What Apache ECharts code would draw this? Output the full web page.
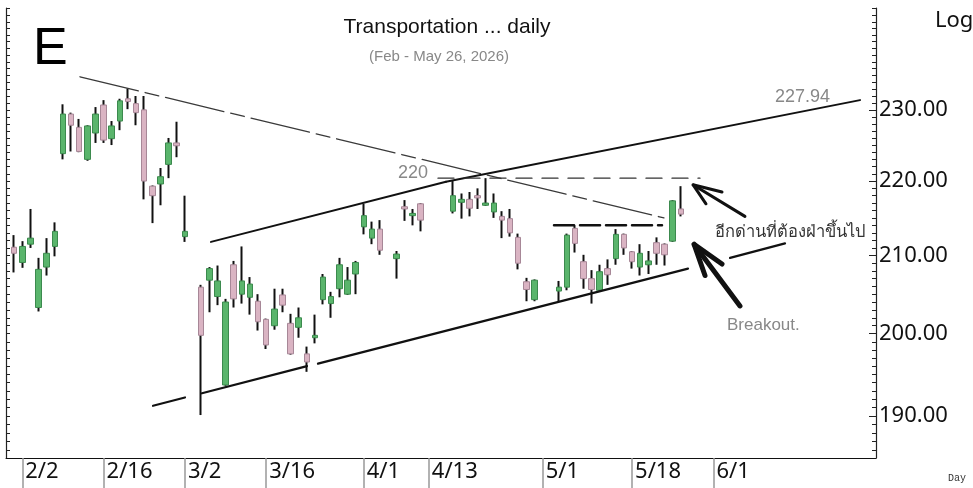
<!DOCTYPE html>
<html><head><meta charset="utf-8">
<script src="https://cdn.jsdelivr.net/npm/echarts@6/dist/echarts.min.js"></script>
<style>html,body{margin:0;padding:0;background:#fff}#c{width:973px;height:488px}</style>
</head><body><div id="c"></div>
<script>
// ---- data (prices) ----
const dates = ['1/30','2/2','2/3','2/4','2/5','2/6','2/9','2/10','2/11','2/12','2/13','2/16','2/17','2/18','2/19','2/20','2/23','2/24','2/25','2/26','2/27','3/2','3/4','3/5','3/6','3/9','3/10','3/11','3/12','3/13','3/16','3/17','3/18','3/19','3/20','3/23','3/24','3/25','3/26','3/27','3/30','3/31','4/1','4/2','4/3','4/7','4/8','4/9','4/10','4/16','4/17','4/20','4/21','4/22','4/23','4/24','4/27','4/28','4/29','4/30','5/5','5/6','5/7','5/8','5/11','5/12','5/13','5/14','5/15','5/18','5/19','5/20','5/21','5/22','5/25','5/26'];
const open  = [211.1,209.1,211.5,203.3,208.5,211.2,223.8,229.4,227.5,223.0,226.7,230.7,225.9,228.4,231.6,230.9,230.0,219.3,219.6,222.3,225.3,212.5,205.9,206.8,204.7,193.7,208.8,205.0,204.6,204.1,201.8,201.0,204.9,201.3,200.8,197.5,199.5,204.3,203.8,205.7,205.0,207.6,213.8,212.3,213.5,209.6,216.5,215.3,216.9,215.9,217.1,217.5,218.0,216.7,215.8,215.2,214.9,212.4,206.6,204.3,205.4,205.9,213.6,209.2,207.0,205.5,208.3,209.6,212.8,210.5,208.5,208.8,211.7,211.5,211.9,216.2];
const close = [210.3,211.2,212.3,208.2,210.3,213.2,229.4,227.8,224.1,227.7,229.4,225.7,227.7,231.3,231.2,229.6,220.0,218.0,220.6,225.3,224.9,213.2,199.8,208.3,206.7,204.0,204.4,206.7,206.3,201.5,198.6,203.1,203.6,197.5,202.0,196.5,199.8,207.2,204.7,208.8,206.8,209.1,215.3,213.5,210.7,210.2,216.2,215.6,214.7,218.0,217.5,216.3,217.7,217.0,217.0,214.7,213.0,209.0,205.6,206.8,205.9,212.7,211.6,207.0,205.6,207.9,207.5,212.8,211.0,209.2,210.3,209.3,210.3,210.1,217.3,215.5];
const low   = [207.8,208.4,211.0,202.8,207.4,209.9,223.0,224.1,224.0,222.8,225.3,225.3,225.0,227.1,230.1,227.8,217.5,214.3,216.7,220.4,223.3,211.8,190.1,202.7,203.6,193.6,203.3,203.8,202.4,200.4,198.1,200.5,202.7,197.4,199.5,195.3,198.8,203.7,202.0,204.6,204.9,205.0,212.8,211.5,210.1,207.0,214.6,214.0,213.2,215.6,214.9,215.2,216.2,216.6,215.0,212.3,212.5,208.2,204.1,204.1,204.1,205.5,210.4,205.7,203.8,205.3,206.2,208.8,210.1,208.3,207.4,207.6,208.8,208.7,211.8,215.2];
const high  = [212.7,211.9,216.2,209.7,212.3,214.4,230.8,229.6,228.7,227.8,230.4,231.4,228.4,231.6,233.1,232.0,232.0,219.4,221.8,226.0,228.3,218.0,206.2,208.5,208.7,204.4,209.3,211.2,207.2,205.0,201.9,205.7,205.7,202.5,203.3,198.4,202.4,207.6,205.3,209.7,208.5,209.3,216.9,214.5,214.7,210.6,217.4,216.2,217.0,220.0,218.3,218.5,219.0,220.4,218.3,215.9,216.2,212.9,207.1,206.9,206.7,212.9,214.0,210.1,208.1,208.8,209.5,213.5,212.9,210.6,211.5,210.6,212.4,211.6,217.4,219.3];

const xTickDates  = ['2/2','2/16','3/2','3/16','4/1','4/13','5/1','5/18','6/1'];
const yTickLabels = [190,200,210,220,230];
const yMinorTicks = [186,187,188,189,190,191,192,193,194,195,196,197,198,199,200,201,202,203,204,205,206,207,208,209,210,211,212,213,214,215,216,217,218,219,220,221,222,223,224,225,226,227,228,229,230,231,232,233,234,235,236,237,238,239,240,241,242,243,244,245];

// annotation lines: [trading-day slot, price]
const downTrend   = [[7.10,234.8],[78.92,215.0]];
const upChannelA  = [[23.21,211.8],[52.11,219.9]];
const upChannelB  = [[52.11,219.9],[103.03,231.4]];
const lowChannel1 = [[16.08,191.2],[20.01,192.2]];
const lowChannel2 = [[22.10,192.7],[35.02,196.0]];
const lowChannel3 = [[36.37,196.3],[81.88,208.3]];
const lowChannel4 = [[87.05,209.7],[93.81,211.6]];
const res220      = [[51.13,220.4],[83.35,220.4]];
const res214      = [[65.40,214.0],[78.68,214.0]];
const arrow1Head  = [[86.06,218.5],[82.49,219.5],[84.09,216.9]];
const arrow1Shaft = [[82.49,219.5],[88.88,215.2]];
const arrow2Head  = [[86.06,208.9],[82.62,211.5],[83.97,207.4]];
const arrow2Shaft = [[82.62,211.5],[88.27,203.5]];

// ---- helpers ----
const BASE = Date.UTC(2026,1,2);
function slotOf(md){
  const [m,d] = md.split('/').map(Number);
  const t = Date.UTC(2026,m-1,d);
  const step = t >= BASE ? 1 : -1;
  const cur = new Date(BASE); let n = 0;
  while (cur.getTime() !== t) {
    cur.setUTCDate(cur.getUTCDate()+step);
    const wd = cur.getUTCDay();
    if (wd !== 0 && wd !== 6) n += step;
  }
  return n;
}
const L = Math.log;
const slots = dates.map(slotOf);
const wickData = slots.map((s,i)=>[s, L(open[i]), L(close[i]), L(low[i]), L(high[i])]);
const bodyData = slots.map((s,i)=>[s, L(open[i]), L(close[i]), L(Math.min(open[i],close[i])), L(Math.max(open[i],close[i]))]);
const xTickSlots = xTickDates.map(slotOf);
const xLabelMap = {}; xTickSlots.forEach((s,i)=>xLabelMap[s]=xTickDates[i]);
const toLn = arr => arr.map(p=>[p[0], L(p[1])]);

const YMIN = L(185.07), YMAX = L(245.1);
const FONT = '"Noto Sans", "DejaVu Sans", sans-serif';
const ARIAL = '"Liberation Sans", Arial, sans-serif';

function lineSeries(pts, color, width, type){
  return {type:'line', data: toLn(pts), symbol:'none', silent:true, animation:false,
    lineStyle:{color:color, width:width, type:type||'solid', cap:'round'}, z:5};
}

const chart = echarts.init(document.getElementById('c'), null, {renderer:'canvas'});
chart.setOption({
  animation:false,
  backgroundColor:'#fff',
  grid:{left:6, right:97, top:8, bottom:30, containLabel:false},
  xAxis:{type:'value', min:-2, max:105,
    axisLine:{onZero:false, lineStyle:{color:'#111', width:1}},
    axisTick:{show:true, customValues:xTickSlots, length:30, inside:false, lineStyle:{color:'#999', width:1.5}},
    axisLabel:{customValues:xTickSlots, formatter:v=>xLabelMap[v]||'', align:'left', padding:[0,0,0,3], margin:3,
      fontSize:22, fontFamily:FONT, color:'#111'},
    splitLine:{show:false}},
  yAxis:[
    {type:'value', position:'right', min:YMIN, max:YMAX,
      axisLine:{show:true, onZero:false, lineStyle:{color:'#222', width:1.2}},
      axisTick:{show:true, inside:true, length:7, customValues:yTickLabels.map(L), lineStyle:{color:'#222'}},
      axisLabel:{customValues:yTickLabels.map(L), formatter:v=>Math.exp(v).toFixed(2), margin:3,
        fontSize:22, fontFamily:FONT, color:'#111'},
      splitLine:{show:false}},
    {type:'value', position:'right', min:YMIN, max:YMAX,
      axisLine:{show:false, onZero:false},
      axisTick:{show:true, inside:true, length:4, customValues:yMinorTicks.map(L), lineStyle:{color:'#222'}},
      axisLabel:{show:false}, splitLine:{show:false}},
    {type:'value', position:'left', min:YMIN, max:YMAX,
      axisLine:{show:true, onZero:false, lineStyle:{color:'#222', width:1.2}},
      axisTick:{show:true, inside:true, length:4, customValues:yMinorTicks.map(L), lineStyle:{color:'#222'}},
      axisLabel:{show:false}, splitLine:{show:false}}
  ],
  series:[
    {type:'candlestick', name:'wick', data:wickData, encode:{x:0, y:[1,2,3,4]}, barWidth:1, silent:true,
      itemStyle:{color:'#111', color0:'#111', borderColor:'#111', borderColor0:'#111', borderWidth:2}},
    {type:'candlestick', name:'body', data:bodyData, encode:{x:0, y:[1,2,3,4]}, barWidth:6, silent:true,
      itemStyle:{color:'#5ab56c', color0:'#dab4c3', borderColor:'#3c8a4e', borderColor0:'#a78797', borderWidth:1}},
    lineSeries(downTrend, '#3a3a3a', 1.3, [60,7,14,7]),
    lineSeries(upChannelA, '#111', 2),
    lineSeries(upChannelB, '#111', 2),
    lineSeries(lowChannel1, '#111', 2.2),
    lineSeries(lowChannel2, '#111', 2.2),
    lineSeries(lowChannel3, '#111', 2.2),
    lineSeries(lowChannel4, '#111', 2.2),
    lineSeries(res220, '#333', 1.3, [16,10]),
    lineSeries(res214, '#111', 2.5, [20,6]),
    lineSeries(arrow1Head, '#111', 3),
    lineSeries(arrow1Shaft, '#111', 3),
    lineSeries(arrow2Head, '#111', 5),
    lineSeries(arrow2Shaft, '#111', 5)
  ],
  graphic:[
    {type:'text', x:447, y:27, style:{text:'Transportation ... daily', fontSize:21, fontFamily:ARIAL, fill:'#111', align:'center', verticalAlign:'middle'}},
    {type:'text', x:439, y:57, style:{text:'(Feb - May 26, 2026)', fontSize:15, fontFamily:ARIAL, fill:'#888', align:'center', verticalAlign:'middle'}},
    {type:'text', x:33, y:50, style:{text:'E', fontSize:52, fontFamily:ARIAL, fill:'#000', align:'left', verticalAlign:'middle'}},
    {type:'text', x:935, y:21, style:{text:'Log', fontSize:22, fontFamily:FONT, fill:'#111', align:'left', verticalAlign:'middle'}},
    {type:'text', x:948, y:478, style:{text:'Day', fontSize:10, fontFamily:'"Liberation Mono", monospace', fill:'#333', align:'left', verticalAlign:'middle'}},
    {type:'text', x:775, y:97, style:{text:'227.94', fontSize:18, fontFamily:ARIAL, fill:'#888', align:'left', verticalAlign:'middle'}},
    {type:'text', x:398, y:173, style:{text:'220', fontSize:18, fontFamily:ARIAL, fill:'#888', align:'left', verticalAlign:'middle'}},
    {type:'text', x:715, y:232, style:{text:'อีกด่านที่ต้องฝ่าขึ้นไป', fontSize:16.5, fontFamily:FONT, fill:'#333', align:'left', verticalAlign:'middle'}},
    {type:'text', x:727, y:325, style:{text:'Breakout.', fontSize:17, fontFamily:ARIAL, fill:'#888', align:'left', verticalAlign:'middle'}}
  ]
});
</script>
</body></html>
